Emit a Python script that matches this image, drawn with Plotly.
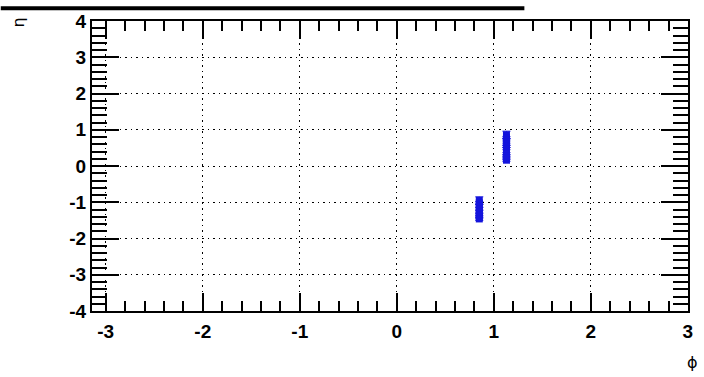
import plotly.graph_objects as go

# data
phi_a = [1.13, 1.13, 1.13, 1.13, 1.13, 1.13, 1.13, 1.13, 1.13, 1.13]
eta_a = [0.86, 0.78, 0.72, 0.60, 0.54, 0.48, 0.34, 0.28, 0.22, 0.16]
phi_b = [0.85, 0.85, 0.85, 0.85, 0.85, 0.85, 0.85, 0.85]
eta_b = [-0.95, -1.02, -1.10, -1.18, -1.26, -1.34, -1.40, -1.46]
err_a = [0.10, 0.03, 0.03, 0.03, 0.03, 0.03, 0.03, 0.03, 0.03, 0.03]
err_b = [0.10, 0.04, 0.04, 0.04, 0.04, 0.04, 0.04, 0.04]

x_ticks = [-3, -2, -1, 0, 1, 2, 3]
y_ticks = [-4, -3, -2, -1, 0, 1, 2, 3, 4]

blue = "rgb(20,20,220)"
fig = go.Figure()
for px, py, pe in [(phi_a, eta_a, err_a), (phi_b, eta_b, err_b)]:
    fig.add_trace(go.Scatter(
        x=px, y=py, mode="markers",
        marker=dict(symbol="square", size=7, color=blue, line=dict(width=0)),
        error_y=dict(type="data", array=pe, color=blue, thickness=1, width=4),
        showlegend=False, hoverinfo="skip"))

font_tick = dict(family="Liberation Sans, Arial", size=19, color="black", weight="bold")

fig.update_xaxes(
    range=[-3.1416, 3.001], tickvals=x_ticks, ticktext=[str(v) for v in x_ticks],
    ticks="inside", ticklen=18, tickwidth=2, tickcolor="black",
    minor=dict(ticks="inside", dtick=0.2, tick0=0, ticklen=10, tickwidth=2, tickcolor="black", showgrid=False),
    showline=True, linecolor="black", linewidth=2, mirror="ticks",
    showgrid=True, gridcolor="black", griddash="1.5px,4px", gridwidth=1.3,
    zeroline=False, tickfont=font_tick, ticklabelstandoff=2)
fig.update_yaxes(
    range=[-4, 4], tickvals=y_ticks, ticktext=[str(v) for v in y_ticks],
    ticks="inside", ticklen=27, tickwidth=2, tickcolor="black",
    minor=dict(ticks="inside", dtick=0.2, tick0=0, ticklen=15, tickwidth=2, tickcolor="black", showgrid=False),
    showline=True, linecolor="black", linewidth=2, mirror="ticks",
    showgrid=True, gridcolor="black", griddash="1.5px,4px", gridwidth=1.3,
    zeroline=False, tickfont=font_tick, ticklabelstandoff=0)

W, H = 704, 377
L, R, T, B = 92, 11, 15, 66
pw, ph = W - L - R, H - T - B

def px2paper(x, y):
    return (x - L) / pw, (H - B - y) / ph

x0, y0 = px2paper(0, 0)
x1, y1 = px2paper(528, 4)
fig.add_shape(type="rect", xref="paper", yref="paper", x0=x0, x1=x1, y0=y1, y1=y0,
              fillcolor="black", line=dict(width=0), layer="above")

ax, ay = px2paper(18, 17)
fig.add_annotation(text="η", xref="paper", yref="paper", x=ax, y=ay, showarrow=False,
                   xanchor="center", yanchor="middle",
                   textangle=-90, font=dict(family="DejaVu Sans", size=16, color="black"))
bx, by = px2paper(698, 364)
fig.add_annotation(text="ϕ", xref="paper", yref="paper", x=bx, y=by, showarrow=False,
                   xanchor="center", yanchor="middle",
                   font=dict(family="DejaVu Sans", size=16, color="black"))

fig.update_layout(width=W, height=H, margin=dict(l=L, r=R, t=T, b=B, pad=0),
                  plot_bgcolor="white", paper_bgcolor="white")
fig.write_html("out.html")
